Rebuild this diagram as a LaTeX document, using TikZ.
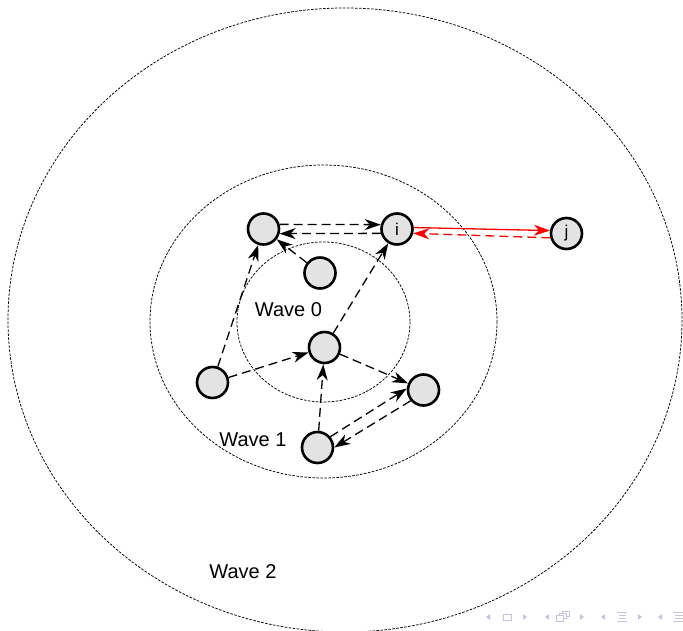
\documentclass[tikz,border=0pt]{standalone}
\usepackage{fontspec}
\setmainfont{Liberation Sans}
\usetikzlibrary{arrows.meta}
\definecolor{nodefill}{gray}{0.89}
\definecolor{navcol}{RGB}{196,196,226}
\begin{document}
\begin{tikzpicture}[x=1pt,y=-1pt,
  peer/.style={circle,draw=black,line width=2.6pt,fill=nodefill,minimum size=31pt,inner sep=0pt,font=\fontsize{17}{19}\selectfont},
  wave/.style={draw=black,line width=0.75pt,dash pattern=on 2.6pt off 1.4pt},
  msg/.style={line width=1.3pt,dash pattern=on 9pt off 5pt,-{Stealth[length=16pt,width=11pt,inset=5pt]}},
  redmsg/.style={red,line width=1.3pt,-{Stealth[length=16pt,width=11pt,inset=5pt]}},
  lbl/.style={font=\fontsize{20}{22}\selectfont},
  nav/.style={fill=navcol,draw=none}
]
\useasboundingbox (0,0) rectangle (683,631);
% waves
\draw[wave] (345,320) ellipse [x radius=337, y radius=312];
\draw[wave] (323.5,321.5) ellipse [x radius=173.5, y radius=156.5];
\draw[wave] (323.5,322) ellipse [x radius=86.5, y radius=80];
% nodes
\node[peer] (a) at (263.5,229) {};
\node[peer] (i) at (397,229) {i};
\node[peer] (j) at (566.5,233.5) {j};
\node[peer] (b) at (320,273) {};
\node[peer] (c) at (324.5,347.5) {};
\node[peer] (d) at (212.5,382.5) {};
\node[peer] (e) at (423.5,390) {};
\node[peer] (f) at (317.5,447.5) {};
% labels
\node[lbl] (w0) at (288.5,310) {Wave 0};
\node[lbl] (w1) at (253,440) {Wave 1};
\node[lbl] (w2) at (243,572) {Wave 2};
% messages
\draw[msg] (a.16) -- (i.165);
\draw[msg] (i.195) -- (a.-16);
\draw[msg] (b) -- (a);
\draw[msg] (d) -- (a);
\draw[msg] (c) -- (i);
\draw[msg] (d) -- (c);
\draw[msg] (c) -- (e);
\draw[msg] (f) -- (c);
\draw[msg] (f.40) -- (e.175);
\draw[msg] (e.220) -- (f.0);
\draw[redmsg] (i.5) -- (j.170);
\draw[redmsg,dash pattern=on 9pt off 5pt] (j.195) -- (i.-15);
% navigation symbols
\fill[nav] (486,617) -- (490,614) -- (490,620) -- cycle;
\draw[navcol,line width=0.9pt] (503,614) rectangle (511,620);
\fill[nav] (527,617) -- (523,614) -- (523,620) -- cycle;
\fill[nav] (545,617) -- (549,614) -- (549,620) -- cycle;
\draw[navcol,line width=0.9pt,fill=white] (562,611) rectangle (569,616);
\draw[navcol,line width=0.9pt,fill=white] (559,613) rectangle (566,618);
\draw[navcol,line width=0.9pt,fill=white] (556,615) rectangle (563,621);
\fill[nav] (584,617) -- (580,614) -- (580,620) -- cycle;
\fill[nav] (601,617) -- (605,614) -- (605,620) -- cycle;
\draw[navcol,line width=0.9pt] (617,612) -- (627,612) (619,615) -- (626,615) (619,618) -- (626,618) (617,621) -- (627,621);
\fill[nav] (642,617) -- (638,614) -- (638,620) -- cycle;
\fill[nav] (658,617) -- (662,614) -- (662,620) -- cycle;
\draw[navcol,line width=0.9pt] (673,612) -- (683,612) (675,615) -- (683,615) (675,618) -- (683,618) (673,621) -- (683,621);
\end{tikzpicture}
\end{document}
